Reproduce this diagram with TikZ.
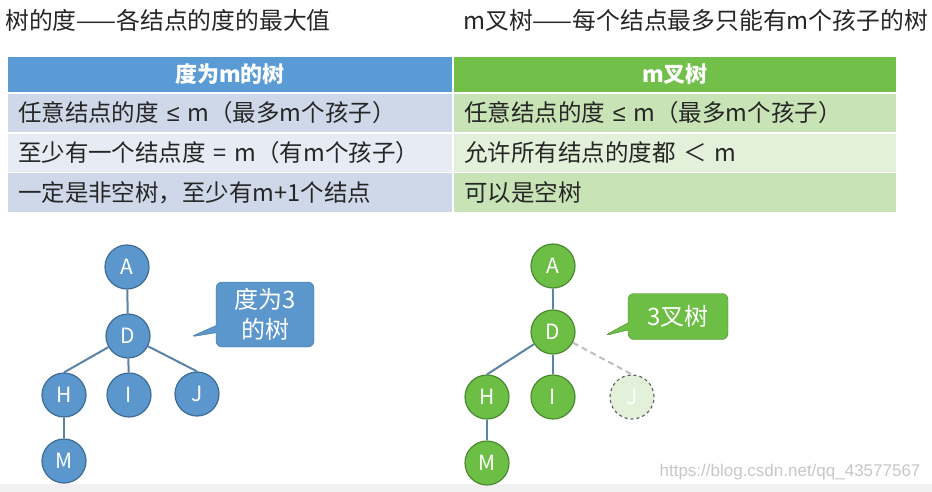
\documentclass[tikz,border=0pt]{standalone}
\usepackage{fontspec}
\setmainfont{Noto Sans CJK SC}
\newfontfamily\markfont{Liberation Sans}
\usetikzlibrary{shapes.callouts, positioning}
\definecolor{headblue}{HTML}{5B9BD5}
\definecolor{rowblue}{HTML}{CFD8E8}
\definecolor{rowblue_lt}{HTML}{E7EBF3}
\definecolor{headgreen}{HTML}{72C04A}
\definecolor{rowgreen}{HTML}{C8E3B5}
\definecolor{rowgreen_lt}{HTML}{E3F0DA}
\definecolor{nodeblue}{HTML}{5B96CC}
\definecolor{edgeblue}{HTML}{3E6C98}
\definecolor{nodegreen}{HTML}{6DBE45}
\definecolor{edgegreen}{HTML}{4A8A30}
\tikzset{
    title_text/.style={anchor=west, inner sep=0pt, text=black!85, font=\fontsize{23.8}{28}\selectfont},
    head_cell/.style={rectangle, minimum height=35pt, text=white, font=\bfseries\fontsize{22}{25}\selectfont},
    row_cell/.style={rectangle, minimum height=38pt, align=left, text=black!85, font=\fontsize{23.5}{26}\selectfont},
    tree_blue/.style={circle, draw=edgeblue, line width=1.2pt, fill=nodeblue, minimum size=44pt, inner sep=0pt, text=white, font=\fontsize{21}{23}\selectfont},
    tree_green/.style={circle, draw=edgegreen, line width=1.2pt, fill=nodegreen, minimum size=44pt, inner sep=0pt, text=white, font=\fontsize{21}{23}\selectfont},
    tree_ghost/.style={circle, draw=black!60, dashed, line width=1.2pt, fill=rowgreen_lt, minimum size=44pt, inner sep=0pt, text=white, font=\fontsize{21}{23}\selectfont},
    note_blue/.style={rectangle callout, rounded corners=6pt, draw=edgeblue, fill=nodeblue, text=white, align=center, font=\fontsize{24}{30}\selectfont},
    note_green/.style={rectangle callout, rounded corners=6pt, draw=edgegreen, fill=nodegreen, text=white, align=center, font=\fontsize{24}{30}\selectfont},
    edge/.style={line width=2pt, draw=edgeblue!85}
}
\begin{document}
\begin{tikzpicture}[x=1pt, y=-1pt]
\useasboundingbox (0,0) rectangle (932,492);
\fill[black!6] (0,484) rectangle (932,492);

% Titles
\node (title_l) [title_text] at (5,20) {树的度——各结点的度的最大值};
\node (title_r) [title_text] at (463,20) {m叉树——每个结点最多只能有m个孩子的树};

% Left table
\node (head_l) [head_cell, fill=headblue, minimum width=444pt] at (230,74.5) {度为m的树};
\node (row_l1) [row_cell, fill=rowblue, minimum width=444pt, text width=424pt] at (230,113) {任意结点的度 {\markfont ≤} m（最多m个孩子）};
\node (row_l2) [row_cell, fill=rowblue_lt, minimum width=444pt, text width=424pt] at (230,153) {至少有一个结点度 = m（有m个孩子）};
\node (row_l3) [row_cell, fill=rowblue, minimum width=444pt, text width=424pt] at (230,192.5) {一定是非空树，至少有m+1个结点};

% Right table
\node (head_r) [head_cell, fill=headgreen, minimum width=442pt] at (675,74.5) {m叉树};
\node (row_r1) [row_cell, fill=rowgreen, minimum width=442pt, text width=422pt] at (675,113) {任意结点的度 {\markfont ≤} m（最多m个孩子）};
\node (row_r2) [row_cell, fill=rowgreen_lt, minimum width=442pt, text width=422pt] at (675,153) {允许所有结点的度都 ＜ m};
\node (row_r3) [row_cell, fill=rowgreen, minimum width=442pt, text width=422pt] at (675,192.5) {可以是空树};

% Tree of degree 3
\node (a_l) [tree_blue] at (127,267) {A};
\node (d_l) [tree_blue] at (128,336) {D};
\node (h_l) [tree_blue] at (64,395) {H};
\node (i_l) [tree_blue] at (129,395) {I};
\node (j_l) [tree_blue] at (197,394) {J};
\node (m_l) [tree_blue] at (64,461) {M};
\draw[edge] (a_l) -- (d_l);
\draw[edge] (d_l) -- (h_l.north);
\draw[edge] (d_l) -- (i_l);
\draw[edge] (d_l) -- (j_l.north);
\draw[edge] (h_l) -- (m_l);
\node (note_l) [note_blue, minimum width=98pt, minimum height=65pt,
    callout absolute pointer={(190,337)}] at (265,314.5) {度为3\\的树};

% 3-ary tree
\node (a_r) [tree_green] at (553,266) {A};
\node (d_r) [tree_green] at (553,332) {D};
\node (h_r) [tree_green] at (487,397) {H};
\node (i_r) [tree_green] at (553,397) {I};
\node (j_r) [tree_ghost] at (632,397) {J};
\node (m_r) [tree_green] at (487,463) {M};
\draw[edge] (a_r) -- (d_r);
\draw[edge] (d_r) -- (h_r.north);
\draw[edge] (d_r) -- (i_r);
\draw[edge, draw=black!25, dashed, dash pattern=on 6pt off 4pt] (d_r) -- (j_r.north);
\draw[edge] (h_r) -- (m_r);
\node (note_r) [note_green, minimum width=100pt, minimum height=46pt,
    callout absolute pointer={(604,336)}] at (678,316.5) {3叉树};

% Watermark
\node (mark) [anchor=east, text=black!22, font=\markfont\fontsize{17}{20}\selectfont] at (924,472) {https://blog.csdn.net/qq\_43577567};
\end{tikzpicture}
\end{document}
